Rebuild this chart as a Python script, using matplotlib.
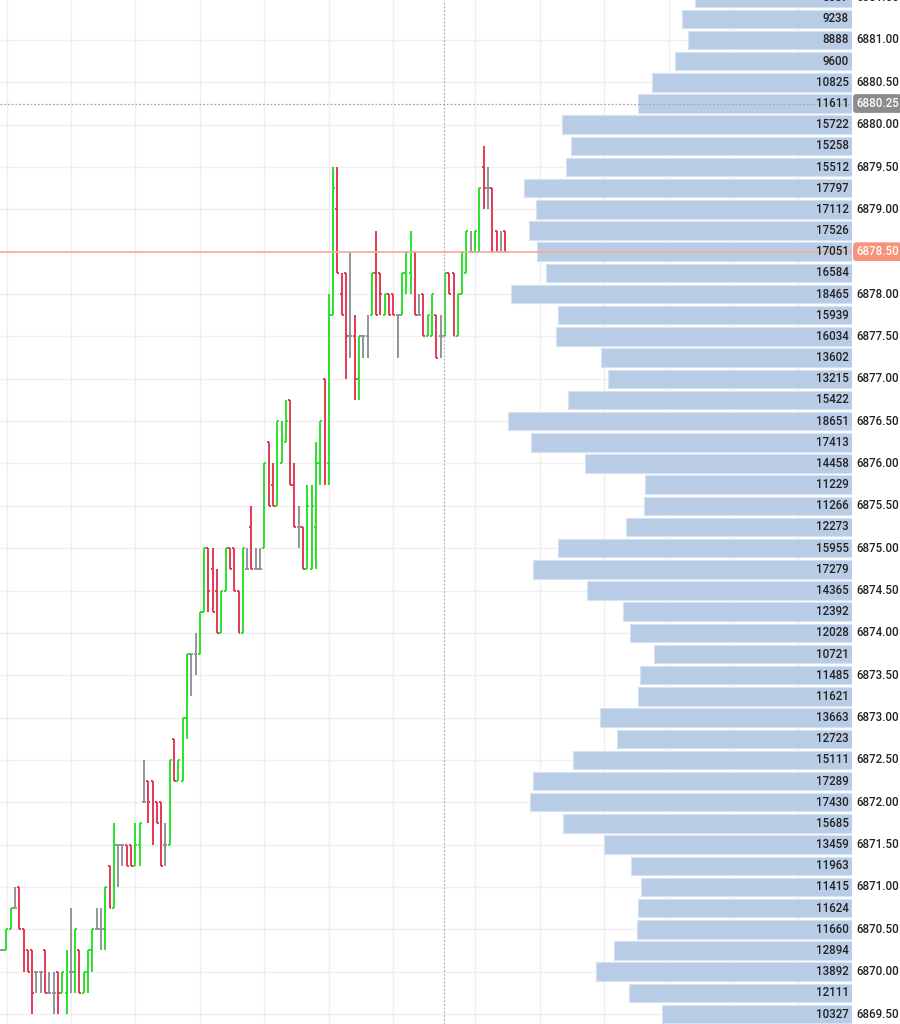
import numpy as np
import matplotlib.pyplot as plt
from matplotlib.collections import LineCollection
from matplotlib.transforms import blended_transform_factory

plt.rcParams['font.family'] = ['Roboto', 'DejaVu Sans']

TOP_PRICE = 6881.00
TICK = 0.25

# OHLC values, counted in 0.25 ticks below 6881.00
open_ticks = [43, 43, 42, 41, 40, 42, 43, 43, 44, 44, 43, 45, 45, 44, 45, 45, 44, 44, 43, 45,
              44, 43, 42, 42, 42, 39, 41, 38, 38, 38, 38, 39, 38, 36, 35, 35, 36, 36, 38, 38,
              33, 35, 35, 32, 29, 29, 29, 27, 24, 25, 26, 28, 26, 24, 24, 26, 28, 25, 23, 25,
              25, 24, 19, 21, 22, 20, 19, 17, 21, 23, 23, 25, 25, 23, 20, 16, 20, 13, 8, 12,
              11, 14, 14, 16, 14, 14, 13, 11, 11, 13, 12, 12, 13, 13, 11, 11, 10, 13, 12, 14,
              14, 13, 14, 14, 11, 11, 14, 12, 11, 10, 10, 10, 6, 7, 7, 9, 10, 9]
high_ticks = [43, 42, 41, 40, 40, 42, 43, 43, 44, 44, 43, 44, 44, 44, 44, 43, 41, 42, 43, 44,
              43, 42, 41, 41, 40, 39, 37, 38, 38, 38, 38, 37, 37, 34, 35, 35, 36, 36, 37, 34,
              33, 34, 32, 29, 29, 28, 27, 24, 24, 24, 25, 26, 24, 24, 24, 26, 24, 24, 22, 24,
              24, 20, 19, 20, 18, 18, 17, 17, 20, 22, 23, 21, 21, 19, 18, 16, 12, 6, 6, 11,
              11, 10, 13, 14, 14, 13, 11, 9, 11, 12, 12, 12, 13, 11, 10, 9, 10, 12, 12, 13,
              12, 13, 13, 11, 11, 11, 12, 10, 9, 9, 9, 7, 5, 6, 7, 9, 9, 9]
low_ticks = [43, 43, 42, 41, 42, 44, 44, 46, 45, 45, 45, 45, 46, 46, 45, 46, 45, 45, 45, 45,
             45, 44, 42, 43, 43, 41, 41, 40, 39, 39, 39, 39, 39, 36, 37, 38, 37, 39, 39, 38,
             35, 35, 35, 33, 31, 30, 29, 27, 27, 27, 28, 28, 26, 25, 26, 28, 28, 25, 25, 25,
             25, 24, 22, 22, 22, 20, 19, 21, 23, 24, 25, 25, 25, 25, 21, 21, 21, 13, 11, 13,
             16, 15, 17, 17, 15, 15, 13, 13, 13, 13, 13, 13, 15, 13, 12, 12, 13, 13, 14, 14,
             14, 15, 15, 14, 12, 14, 14, 12, 11, 10, 10, 10, 8, 8, 10, 10, 10, 10]
close_ticks = [43, 42, 41, 41, 42, 43, 44, 45, 44, 44, 45, 45, 45, 45, 44, 44, 44, 42, 45, 44,
               43, 42, 42, 42, 40, 41, 38, 38, 38, 39, 39, 38, 37, 36, 36, 36, 37, 39, 38, 34,
               35, 34, 32, 29, 29, 29, 27, 24, 26, 27, 28, 26, 24, 25, 26, 28, 24, 25, 25, 25,
               25, 20, 22, 22, 18, 19, 18, 21, 23, 23, 25, 22, 22, 20, 18, 20, 13, 7, 11, 13,
               14, 14, 16, 14, 14, 14, 11, 13, 12, 12, 13, 13, 13, 11, 10, 10, 13, 13, 14, 13,
               12, 15, 14, 11, 12, 14, 12, 10, 9, 10, 9, 7, 7, 7, 10, 10, 10, 10]

# volume profile
profile_prices = [6881.50 - 0.25 * k for k in range(49)]
profile_volumes = [8537, 9238, 8888, 9600, 10825, 11611, 15722, 15258, 15512, 17797,
                   17112, 17526, 17051, 16584, 18465, 15939, 16034, 13602, 13215, 15422,
                   18651, 17413, 14458, 11229, 11266, 12273, 15955, 17279, 14365, 12392,
                   12028, 10721, 11485, 11621, 13663, 12723, 15111, 17289, 17430, 15685,
                   13459, 11963, 11415, 11624, 11660, 12894, 13892, 12111, 10327]

label_prices = [6881.50 - 0.5 * k for k in range(25)]
grid_bars = [1.2, 16, 31, 46, 61, 76, 91, 110, 125, 140, 155, 170, 185]
cross_bar = 102.7
cross_price = 6880.25
last_price = 6878.50

opens = TOP_PRICE - TICK * np.array(open_ticks)
highs = TOP_PRICE - TICK * np.array(high_ticks)
lows = TOP_PRICE - TICK * np.array(low_ticks)
closes = TOP_PRICE - TICK * np.array(close_ticks)

UP, DOWN, FLAT = '#24e024', '#e3324f', '#8d9197'

fig = plt.figure(figsize=(9, 10.24), dpi=100)
ax = fig.add_axes([0, 0, 852 / 900, 1])
ax.set_xlim(-0.465, 197.67)
ax.set_ylim(6869.382, 6881.472)
for s in ax.spines.values():
    s.set_visible(False)
ax.set_xticks([])
ax.set_yticks([])

# grid
for p in label_prices:
    ax.axhline(p, color='#efefef', lw=1, zorder=0)
for gx in grid_bars:
    ax.axvline(gx, color='#efefef', lw=1, zorder=0)

# OHLC bars
segs, cols = [], []
w = 0.45
for i in range(len(opens)):
    if closes[i] > opens[i]:
        c = UP
    elif closes[i] < opens[i]:
        c = DOWN
    else:
        c = FLAT
    segs += [[(i, lows[i]), (i, highs[i])],
             [(i - w, opens[i]), (i, opens[i])],
             [(i, closes[i]), (i + w, closes[i])]]
    cols += [c, c, c]
ax.add_collection(LineCollection(segs, colors=cols, linewidths=1.35, zorder=3))

ax.axvline(cross_bar, color='#b0b0b0', lw=0.9, ls=(0, (1.5, 1.5)), zorder=4)

# volume profile on a twin axis
ax2 = ax.twiny()
ax2.set_xlim(46190, 0)
ax2.axis('off')
ax2.barh(profile_prices, profile_volumes, height=0.218, left=0,
         color='#b9cce6', edgecolor='#d6e1f1', linewidth=0.8, zorder=2)
for p, v in zip(profile_prices, profile_volumes):
    ax2.text(160, p, str(v), ha='right', va='center', fontsize=8.3,
             fontweight='medium', color='#222222', zorder=5)

ax2.axhline(last_price, color='#f7ab9b', lw=1.2, zorder=4)
ax2.axhline(cross_price, color='#a8a8a8', lw=0.9, ls=(0, (1.5, 1.5)), zorder=4)

# price scale labels
tr = blended_transform_factory(fig.transFigure, ax.transData)
for p in label_prices:
    if abs(p - last_price) < 0.01:
        continue
    ax.text(856 / 900, p, f'{p:.2f}', transform=tr, ha='left', va='center',
            fontsize=8.3, fontweight='medium', color='#222222', clip_on=False)
ax.text(856 / 900, last_price, f'{last_price:.2f}', transform=tr, ha='left',
        va='center', fontsize=8.3, fontweight='medium', color='white', clip_on=False,
        bbox=dict(boxstyle='round,pad=0.25', fc='#f5937b', ec='none'))
ax.text(856 / 900, cross_price, f'{cross_price:.2f}', transform=tr, ha='left',
        va='center', fontsize=8.3, fontweight='medium', color='white', clip_on=False,
        bbox=dict(boxstyle='round,pad=0.25', fc='#8c8c8c', ec='none'))

fig.savefig('out.png', dpi=100)
